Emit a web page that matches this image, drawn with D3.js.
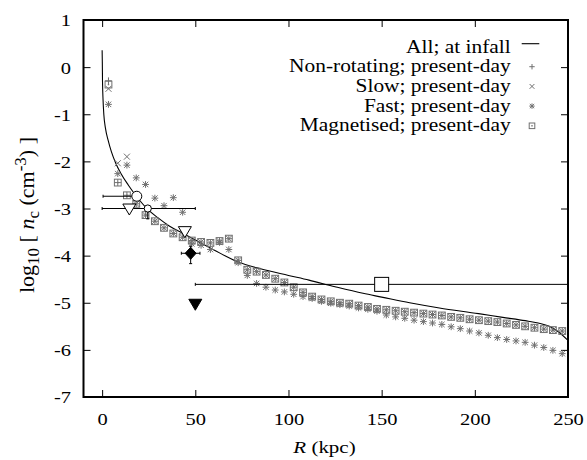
<!DOCTYPE html>
<html><head><meta charset="utf-8">
<script src="https://cdn.jsdelivr.net/npm/d3@7"></script>
</head>
<body style="margin:0;background:#fff"><svg id="c" width="587" height="460" font-family="'Liberation Serif', serif"></svg>
<script>
// ---- data ----
const xTicks = [0, 50, 100, 150, 200, 250];
const yTicks = [-7, -6, -5, -4, -3, -2, -1, 0, 1];
const legendLabels = ["All; at infall", "Non-rotating; present-day", "Slow; present-day", "Fast; present-day", "Magnetised; present-day"];

// "All; at infall" curve
const infallR = [0, 0.1, 0.2, 0.5, 0.9, 1.8, 3.2, 5, 7.3, 10, 14, 18.6, 24.5, 30, 36, 43, 50, 60, 72.7, 85, 100, 111, 125, 140, 150, 165, 181, 202, 215, 227, 234, 240, 245, 250];
const infallLogN = [0.36, 0.1, -0.3, -0.7, -1.0, -1.3, -1.55, -1.8, -2.04, -2.25, -2.5, -2.75, -3.02, -3.2, -3.37, -3.52, -3.67, -3.88, -4.13, -4.28, -4.42, -4.52, -4.66, -4.8, -4.88, -5.0, -5.11, -5.23, -5.31, -5.38, -5.43, -5.5, -5.62, -5.8];

// present-day radial bins
const simR = [3.4, 8.4, 13.3, 18.3, 23.3, 28.3, 33.2, 38.2, 43.2, 48.1, 53.1, 58.1, 63.0, 68.0, 73.0, 77.9, 82.9, 87.9, 92.9, 97.8, 102.8, 107.8, 112.7, 117.7, 122.7, 127.6, 132.6, 137.6, 142.6, 147.5, 152.5, 157.5, 162.4, 167.4, 172.4, 177.3, 182.3, 187.3, 192.2, 197.2, 202.2, 207.2, 212.1, 217.1, 222.1, 227.0, 232.0, 237.0, 241.9, 246.9];
const nonRotating = [-0.29, -2.45, -2.72, -2.90, -3.14, -3.27, -3.41, -3.53, -3.61, -3.68, -3.71, -3.73, -3.69, -3.64, -4.10, -4.30, -4.34, -4.41, -4.49, -4.57, -4.67, -4.78, -4.87, -4.93, -4.97, -5.00, -5.02, -5.06, -5.09, -5.13, -5.15, -5.17, -5.19, -5.21, -5.23, -5.25, -5.27, -5.30, -5.32, -5.35, -5.37, -5.39, -5.41, -5.44, -5.47, -5.50, -5.53, -5.56, -5.58, -5.60];
const slow = [-0.46, -2.04, -1.90, -2.90, -3.14, -3.27, -3.41, -3.53, -3.61, -3.68, -3.71, -3.73, -3.69, -3.64, -4.10, -4.30, -4.34, -4.41, -4.49, -4.57, -4.67, -4.78, -4.87, -4.93, -4.97, -5.00, -5.02, -5.06, -5.09, -5.13, -5.15, -5.17, -5.19, -5.21, -5.23, -5.25, -5.27, -5.30, -5.32, -5.35, -5.37, -5.39, -5.41, -5.44, -5.47, -5.50, -5.53, -5.56, -5.58, -5.60];
const fast = [-0.79, -2.26, -2.08, -2.35, -2.49, -2.78, -2.94, -2.77, -3.08, -3.75, -3.78, -3.87, -3.72, -3.87, -4.15, -4.42, -4.59, -4.67, -4.73, -4.77, -4.82, -4.87, -4.91, -4.97, -5.01, -5.04, -5.07, -5.11, -5.14, -5.18, -5.26, -5.30, -5.33, -5.37, -5.40, -5.43, -5.46, -5.51, -5.55, -5.60, -5.64, -5.69, -5.74, -5.78, -5.81, -5.84, -5.90, -5.95, -6.01, -6.08];
const magnetised = [-0.37, -2.45, -2.72, -2.90, -3.14, -3.27, -3.41, -3.53, -3.61, -3.68, -3.71, -3.73, -3.69, -3.64, -4.10, -4.30, -4.34, -4.41, -4.49, -4.57, -4.67, -4.78, -4.87, -4.93, -4.97, -5.00, -5.02, -5.06, -5.09, -5.13, -5.15, -5.17, -5.19, -5.21, -5.23, -5.25, -5.27, -5.30, -5.32, -5.35, -5.37, -5.39, -5.41, -5.44, -5.47, -5.50, -5.53, -5.56, -5.58, -5.60];

// observational constraints
const obsR      = [18.6, 24.5, 14.6, 44.4, 47.5, 50, 150];
const obsLogN   = [-2.74, -3.0, -2.99, -3.47, -3.95, -5.0, -4.61];
const obsXLow   = [0.5, 0, null, null, 42.5, null, 50];
const obsXHigh  = [18.6, 50, null, null, 52.5, null, 250];
const obsYLow   = [null, -3.22, null, null, -4.17, null, null];
const obsYHigh  = [null, -3.0, null, null, -3.8, null, null];
const obsSymbol = ["circle", "smallcircle", "opentri", "opentri", "diamond", "filledtri", "square"];

// ---- drawing ----
const FONT = "'Liberation Serif', serif";
const svg = d3.select("#c");
const L = 83.5, R = 568, T = 20, B = 397;
const x = d3.scaleLinear().domain([-10, 250]).range([L, R]);
const y = d3.scaleLinear().domain([-7, 1]).range([B, T]);
const gray = "#707070";
const TICK_FS = 17.5, TICK_SX = 1.17;

svg.append("rect").attr("width", 587).attr("height", 460).attr("fill", "#fff");
svg.append("defs").append("clipPath").attr("id", "clip")
  .append("rect").attr("x", L).attr("y", T).attr("width", R - L).attr("height", B - T);

// axes
const fmt = d => String(d);
const gB = svg.append("g").attr("transform", `translate(0,${B})`)
  .call(d3.axisBottom(x).tickValues(xTicks).tickSize(-7).tickPadding(15.6).tickFormat(fmt));
const gT = svg.append("g").attr("transform", `translate(0,${T})`)
  .call(d3.axisTop(x).tickValues(xTicks).tickSize(-7).tickFormat(""));
const gL = svg.append("g").attr("transform", `translate(${L},0)`)
  .call(d3.axisLeft(y).tickValues(yTicks).tickSize(-7).tickPadding(12.5).tickFormat(fmt));
const gR = svg.append("g").attr("transform", `translate(${R},0)`)
  .call(d3.axisRight(y).tickValues(yTicks).tickSize(-7).tickFormat(""));
[gB, gT, gL, gR].forEach(g => {
  g.attr("font-family", FONT).attr("font-size", TICK_FS);
  g.select(".domain").remove();
  g.selectAll(".tick line").attr("stroke", "#000").attr("stroke-width", 1);
  g.selectAll("text").attr("font-size", TICK_FS).attr("fill", "#000").attr("font-family", FONT)
    .attr("transform", `scale(${TICK_SX},1)`);
});
gL.selectAll("text").attr("dy", "0.34em").attr("x", -12.5 / TICK_SX);

const plot = svg.append("g").attr("clip-path", "url(#clip)");

// marker shapes
function plus(g, cx, cy, s) {
  g.append("path").attr("d", `M${cx - s},${cy}H${cx + s}M${cx},${cy - s}V${cy + s}`)
    .attr("stroke", gray).attr("stroke-width", 1).attr("fill", "none");
}
function cross(g, cx, cy, s) {
  g.append("path").attr("d", `M${cx - s},${cy - s}L${cx + s},${cy + s}M${cx - s},${cy + s}L${cx + s},${cy - s}`)
    .attr("stroke", gray).attr("stroke-width", 1).attr("fill", "none");
}
function star(g, cx, cy, s) { plus(g, cx, cy, s); cross(g, cx, cy, s * 0.8); }
function boxdot(g, cx, cy, s) {
  g.append("rect").attr("x", cx - s).attr("y", cy - s).attr("width", 2 * s).attr("height", 2 * s)
    .attr("stroke", gray).attr("stroke-width", 1).attr("fill", "none");
  g.append("rect").attr("x", cx - 0.7).attr("y", cy - 0.7).attr("width", 1.4).attr("height", 1.4).attr("fill", gray);
}

// curve
const line = d3.line().x(d => x(d[0])).y(d => y(d[1])).curve(d3.curveMonotoneX);
plot.append("path").datum(infallR.map((r, i) => [r, infallLogN[i]]))
  .attr("d", line).attr("fill", "none").attr("stroke", "#000").attr("stroke-width", 1.1);

// simulation points
const sp = plot.append("g");
simR.forEach((r, i) => plus(sp, x(r), y(nonRotating[i]), 3.4));
simR.forEach((r, i) => cross(sp, x(r), y(slow[i]), 3));
simR.forEach((r, i) => star(sp, x(r), y(fast[i]), 3.4));
simR.forEach((r, i) => boxdot(sp, x(r), y(magnetised[i]), 3.4));

// observations
const og = plot.append("g");
obsR.forEach((r, i) => {
  const cx = x(r), cy = y(obsLogN[i]);
  if (obsXLow[i] !== null) {
    const x0 = x(obsXLow[i]), x1 = x(obsXHigh[i]);
    og.append("path").attr("d", `M${x0},${cy}H${x1}M${x0},${cy - 1.5}V${cy + 1.5}M${x1},${cy - 1.5}V${cy + 1.5}`)
      .attr("stroke", "#000").attr("stroke-width", 1).attr("fill", "none");
  }
  if (obsYLow[i] !== null) {
    const y0 = y(obsYLow[i]), y1 = y(obsYHigh[i]);
    og.append("path").attr("d", `M${cx},${y0}V${y1}M${cx - 1.5},${y0}H${cx + 1.5}M${cx - 1.5},${y1}H${cx + 1.5}`)
      .attr("stroke", "#000").attr("stroke-width", 1).attr("fill", "none");
  }
  const s = obsSymbol[i];
  if (s === "circle") og.append("circle").attr("cx", cx).attr("cy", cy).attr("r", 5).attr("fill", "#fff").attr("stroke", "#000");
  if (s === "smallcircle") og.append("circle").attr("cx", cx).attr("cy", cy).attr("r", 3.6).attr("fill", "#fff").attr("stroke", "#000");
  if (s === "opentri") og.append("path").attr("d", `M${cx - 6.5},${cy - 4}H${cx + 6.5}L${cx},${cy + 7}Z`).attr("fill", "#fff").attr("stroke", "#000");
  if (s === "filledtri") og.append("path").attr("d", `M${cx - 6.5},${cy - 3.5}H${cx + 6.5}L${cx},${cy + 7.5}Z`).attr("fill", "#000").attr("stroke", "#000");
  if (s === "diamond") og.append("path").attr("d", `M${cx},${cy - 6}L${cx + 5.5},${cy}L${cx},${cy + 6}L${cx - 5.5},${cy}Z`).attr("fill", "#000").attr("stroke", "#000");
  if (s === "square") og.append("rect").attr("x", cx - 7).attr("y", cy - 7).attr("width", 14).attr("height", 14).attr("fill", "#fff").attr("stroke", "#000");
});

// frame
svg.append("rect").attr("x", L).attr("y", T).attr("width", R - L).attr("height", B - T)
  .attr("fill", "none").attr("stroke", "#000").attr("stroke-width", 2);

// legend (slightly wide serif as in the original)
const lg = svg.append("g").attr("font-family", FONT);
legendLabels.forEach((t, i) => {
  const by = 52.5 + i * 19.7;
  lg.append("g").attr("transform", `translate(510.7,${by}) scale(1.19,1)`)
    .append("text").attr("x", 0).attr("y", 0).attr("text-anchor", "end")
    .attr("font-size", 18).attr("fill", "#000").attr("font-family", FONT).text(t);
  const my = by - 5.5, mx = 532;
  if (i === 0) lg.append("line").attr("x1", 521.7).attr("x2", 539.3).attr("y1", by - 8.8).attr("y2", by - 8.8).attr("stroke", "#000").attr("stroke-width", 1.1);
  if (i === 1) plus(lg, mx, my, 2.7);
  if (i === 2) cross(lg, mx, my, 2.4);
  if (i === 3) star(lg, mx, my, 2.7);
  if (i === 4) boxdot(lg, mx, my, 2.8);
});

// axis labels
const yl = svg.append("text").attr("transform", "translate(33.5,215) rotate(-90)")
  .attr("text-anchor", "middle").attr("font-size", 22).attr("fill", "#000").attr("font-family", FONT);
yl.append("tspan").text("log");
yl.append("tspan").attr("font-size", 17).attr("dy", 5).text("10");
yl.append("tspan").attr("dy", -5).text(" [ ");
yl.append("tspan").attr("font-style", "italic").text("n");
yl.append("tspan").attr("font-size", 17).attr("dy", 5).text("c");
yl.append("tspan").attr("dy", -5).text(" (cm");
yl.append("tspan").attr("font-size", 17).attr("dy", -8).text("-3");
yl.append("tspan").attr("dy", 8).text(") ]");

const xl = svg.append("g").attr("transform", "translate(324.5,453) scale(1.2,1)")
  .append("text").attr("x", 0).attr("y", 0).attr("text-anchor", "middle")
  .attr("font-size", 17.5).attr("fill", "#000").attr("font-family", FONT);
xl.append("tspan").attr("font-style", "italic").text("R");
xl.append("tspan").text(" (kpc)");
</script>
</body></html>
